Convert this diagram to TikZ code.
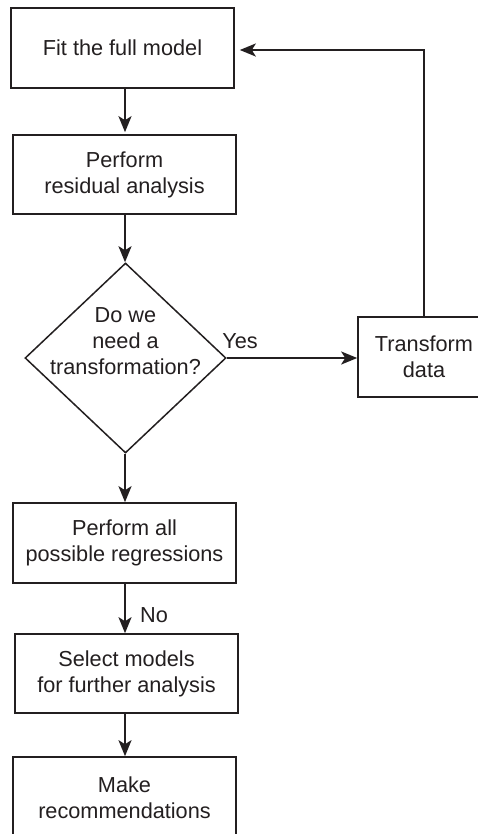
\documentclass[tikz,border=0pt]{standalone}
\usepackage{fontspec}
\setmainfont{Liberation Sans}
\usetikzlibrary{shapes.geometric,arrows.meta}
\definecolor{ink}{HTML}{231F20}
\begin{document}
\begin{tikzpicture}[x=1pt,y=-1pt,
  every node/.style={font=\fontsize{21.7}{26}\selectfont, text=ink},
  box/.style={draw=ink, line width=1.6pt, minimum width=223pt, align=center, inner sep=0pt},
  dia/.style={draw=ink, line width=1.5pt, diamond, minimum width=201pt, minimum height=190pt, inner sep=0pt},
  arr/.style={draw=ink, line width=2.2pt, -{Stealth[length=16pt,width=13pt,inset=4pt]}},
  lbl/.style={inner sep=0pt}]
\useasboundingbox (0,0) rectangle (478,834);
\clip (0,0) rectangle (478,834);
\fill[white] (0,0) rectangle (478,834);
\node[box, minimum height=80pt] (b1) at (122.5,48) {Fit the full model};
\node[box, minimum height=79pt] (b2) at (124.5,174.5) {Perform\\residual analysis};
\node[dia, label={[lbl, align=center, yshift=17pt]center:Do we\\need a\\transformation?}] (d) at (125.5,358) {};
\node[box, minimum width=132pt, minimum height=80pt] (tr) at (424,357) {Transform\\data};
\node[box, minimum height=80pt] (b4) at (124.5,543) {Perform all\\possible regressions};
\node[box, minimum height=79pt] (b5) at (126.5,673.5) {Select models\\for further analysis};
\node[box, minimum height=82pt] (b6) at (124.5,798) {Make\\recommendations};
\coordinate (c1) at (125,88);
\draw[arr] (b1.south -| c1) -- ([yshift=2pt]b2.north -| c1);
\draw[arr] (b2.south -| c1) -- (d.north -| c1);
\draw[arr] (d.south -| c1) -- (b4.north -| c1);
\draw[arr] (b4.south -| c1) -- (b5.north -| c1);
\draw[arr] (b5.south -| c1) -- (b6.north -| c1);
\draw[arr] (d.east) -- (tr.west |- d.east);
\coordinate (fb) at (424,50);
\draw[arr] (tr.north) -- (fb) -- ([xshift=5pt]b1.east |- fb);
\node[lbl] (yes) at (240,341) {Yes};
\node[lbl] (no) at (154,615) {No};
\end{tikzpicture}
\end{document}
